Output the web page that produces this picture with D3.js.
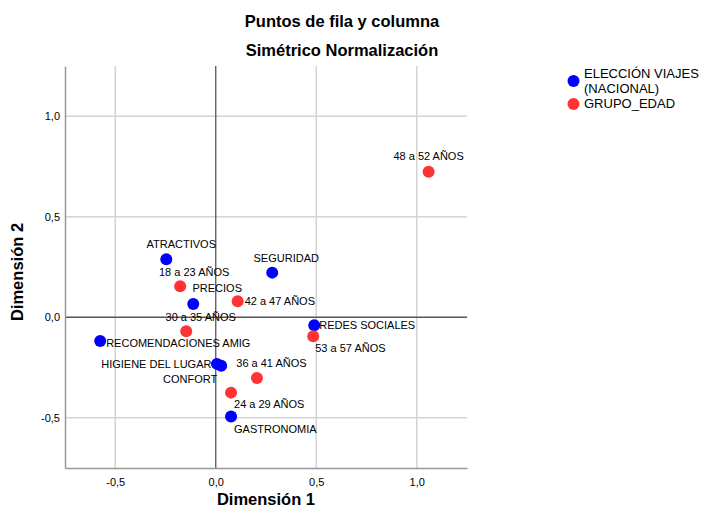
<!DOCTYPE html>
<html><head><meta charset="utf-8">
<script src="https://cdn.jsdelivr.net/npm/d3@7"></script>
<style>
body{margin:0;background:#fff;}
text{font-family:Arial,"Liberation Sans",sans-serif;fill:#000;}
</style></head>
<body><div id="chart"></div>
<script>
// Data
const rowLabels = ["ATRACTIVOS","SEGURIDAD","PRECIOS","REDES SOCIALES","RECOMENDACIONES AMIG","HIGIENE DEL LUGAR","CONFORT","GASTRONOMIA"];
const rowDim1 = [-0.246, 0.281, -0.112, 0.490, -0.575, 0.006, 0.027, 0.076];
const rowDim2 = [0.289, 0.222, 0.066, -0.040, -0.118, -0.232, -0.241, -0.494];
const colLabels = ["18 a 23 AÑOS","24 a 29 AÑOS","30 a 35 AÑOS","36 a 41 AÑOS","42 a 47 AÑOS","48 a 52 AÑOS","53 a 57 AÑOS"];
const colDim1 = [-0.177, 0.076, -0.147, 0.205, 0.109, 1.059, 0.485];
const colDim2 = [0.154, -0.375, -0.070, -0.302, 0.080, 0.724, -0.095];
const seriesNames = ["ELECCIÓN VIAJES\n(NACIONAL)", "GRUPO_EDAD"];
const tickValues = [-0.5, 0, 0.5, 1.0];
const tickLabels = ["-0,5", "0,0", "0,5", "1,0"];
const title1 = "Puntos de fila y columna";
const title2 = "Simétrico Normalización";
const xTitle = "Dimensión 1";
const yTitle = "Dimensión 2";

// Label placement (layout only): [anchor, dx, dy]
const rowLabelPos = [["middle",15,-11.5],["middle",14,-11],["middle",24,-11.5],["start",5,4],["start",6,6.5],["end",-5.5,4.3],["end",-4,17],["start",3,16]];
const colLabelPos = [["middle",14,-10.6],["start",3,15.6],["middle",14.5,-10.6],["middle",14.5,-11],["start",7,4.3],["middle",0,-11.5],["start",2,15.4]];

const W = 706, H = 516;
const m = {left:65, right:467, top:66, bottom:468};
const colors = ["#0000ff", "#ff3333"];

const svg = d3.select("#chart").append("svg").attr("width", W).attr("height", H);
const x = d3.scaleLinear().domain([-0.75, 1.25]).range([m.left, m.right]);
const y = d3.scaleLinear().domain([-0.75, 1.25]).range([m.bottom, m.top]);

// gridlines
const g = svg.append("g");
g.selectAll(".gx").data(tickValues.filter(v => v !== 0)).enter().append("line")
  .attr("x1", d => x(d)).attr("x2", d => x(d)).attr("y1", m.top).attr("y2", m.bottom)
  .attr("stroke", "#d4d4d4").attr("stroke-width", 1.5);
g.selectAll(".gy").data(tickValues.filter(v => v !== 0)).enter().append("line")
  .attr("y1", d => y(d)).attr("y2", d => y(d)).attr("x1", m.left).attr("x2", m.right)
  .attr("stroke", "#d4d4d4").attr("stroke-width", 1.5);

// zero reference lines
g.append("line").attr("x1", x(0)).attr("x2", x(0)).attr("y1", m.top).attr("y2", m.bottom)
  .attr("stroke", "#555").attr("stroke-width", 1.3);
g.append("line").attr("y1", y(0)).attr("y2", y(0)).attr("x1", m.left).attr("x2", m.right)
  .attr("stroke", "#555").attr("stroke-width", 1.3);

// axes
const fmt = d => tickLabels[tickValues.indexOf(d)];
const xAxis = d3.axisBottom(x).tickValues(tickValues).tickFormat(fmt).tickSize(0).tickPadding(10);
const yAxis = d3.axisLeft(y).tickValues(tickValues).tickFormat(fmt).tickSize(0).tickPadding(5);
const xa = svg.append("g").attr("transform", `translate(0,${m.bottom})`).call(xAxis);
const ya = svg.append("g").attr("transform", `translate(${m.left},0)`).call(yAxis);
[xa, ya].forEach(a => {
  a.select(".domain").attr("stroke", "#999").attr("stroke-width", 1.5);
  a.selectAll("text").attr("font-size", 11).attr("font-family", "Arial, 'Liberation Sans', sans-serif").attr("fill", "#000");
});

// points
function drawSeries(labels, d1, d2, pos, color) {
  const data = labels.map((l, i) => ({l, x: d1[i], y: d2[i], p: pos[i]}));
  const gg = svg.append("g");
  gg.selectAll("circle").data(data).enter().append("circle")
    .attr("cx", d => x(d.x)).attr("cy", d => y(d.y)).attr("r", 6).attr("fill", color);
  return data;
}
const rd = drawSeries(rowLabels, rowDim1, rowDim2, rowLabelPos, colors[0]);
const cd = drawSeries(colLabels, colDim1, colDim2, colLabelPos, colors[1]);
const lg = svg.append("g");
rd.concat(cd).forEach(d => {
  lg.append("text").attr("x", x(d.x) + d.p[1]).attr("y", y(d.y) + d.p[2])
    .attr("text-anchor", d.p[0]).attr("font-size", 11).text(d.l);
});

// titles
svg.append("text").attr("x", 342).attr("y", 27).attr("text-anchor", "middle")
  .attr("font-size", 16.5).attr("font-weight", "bold").text(title1);
svg.append("text").attr("x", 342).attr("y", 56).attr("text-anchor", "middle")
  .attr("font-size", 16.5).attr("font-weight", "bold").text(title2);
svg.append("text").attr("x", (m.left + m.right) / 2).attr("y", 505).attr("text-anchor", "middle")
  .attr("font-size", 16.5).attr("font-weight", "bold").text(xTitle);
svg.append("text").attr("transform", `translate(23,272) rotate(-90)`).attr("text-anchor", "middle")
  .attr("font-size", 16.5).attr("font-weight", "bold").text(yTitle);

// legend
const leg = svg.append("g");
const legY = [81, 104];
seriesNames.forEach((s, i) => {
  leg.append("circle").attr("cx", 573.5).attr("cy", legY[i]).attr("r", 6).attr("fill", colors[i]);
  const lines = s.split("\n");
  const t = leg.append("text").attr("x", 584).attr("font-size", 13);
  const y0 = i === 0 ? 78 : 108;
  lines.forEach((ln, k) => t.append("tspan").attr("x", 584).attr("y", y0 + k * 15).text(ln));
});
</script></body></html>
